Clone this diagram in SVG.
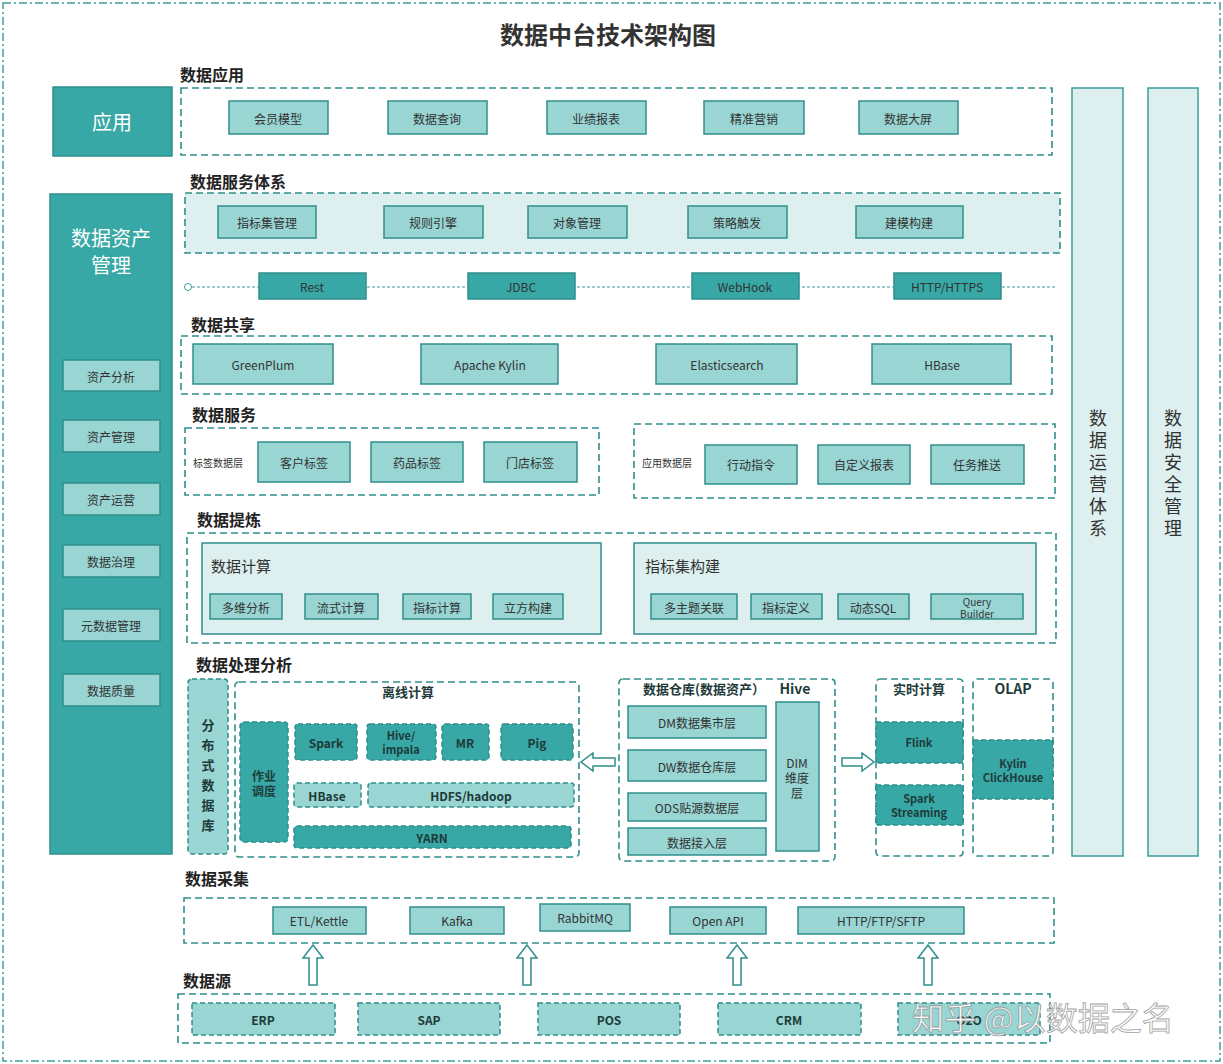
<svg xmlns="http://www.w3.org/2000/svg" width="1223" height="1064" viewBox="0 0 1223 1064">
<style>
text{font-family:"Noto Sans CJK SC","Open Sans",sans-serif;fill:#333;text-anchor:middle;dominant-baseline:central}
.lbl{font-size:16px;font-weight:bold;text-anchor:start;fill:#222}
.dg{fill:none;stroke:#2f8f8c;stroke-width:1.6;stroke-dasharray:7 4}
.lt{fill:#98d5d3;stroke:#2f8f8c;stroke-width:1.5}
.dk{fill:#37a8a5;stroke:#2f8f8c;stroke-width:1.5}
.ltd{fill:#98d5d3;stroke:#2f8f8c;stroke-width:1.5;stroke-dasharray:5 3}
.dkd{fill:#37a8a5;stroke:#2f8f8c;stroke-width:1.5;stroke-dasharray:5 3}
.s{font-size:12px}
.b{font-size:12px;font-weight:bold;fill:#1e3b3a}
.w{fill:#fff}
.ar{fill:#fff;stroke:#2f8f8c;stroke-width:1.5}
</style>
<rect width="1223" height="1064" fill="#fff"/>
<rect x="3" y="3" width="1217" height="1058" fill="none" stroke="#3a9e9b" stroke-width="1.5" stroke-dasharray="8 3 2 3"/>
<text x="608" y="33" style="font-size:24px;font-weight:bold" fill="#222">数据中台技术架构图</text>

<g id="app">
<rect x="53" y="87" width="119" height="69" class="dk"/>
<text x="112" y="121" class="w" style="font-size:20px;fill:#fff">应用</text>
<text x="180" y="74" class="lbl">数据应用</text>
<rect x="181" y="88" width="871" height="67" class="dg"/>
<rect x="229" y="101" width="99" height="33" class="lt"/><text x="278" y="118" class="s">会员模型</text>
<rect x="388" y="101" width="99" height="33" class="lt"/><text x="437" y="118" class="s">数据查询</text>
<rect x="547" y="101" width="99" height="33" class="lt"/><text x="596" y="118" class="s">业绩报表</text>
<rect x="704" y="101" width="100" height="33" class="lt"/><text x="754" y="118" class="s">精准营销</text>
<rect x="859" y="101" width="99" height="33" class="lt"/><text x="908" y="118" class="s">数据大屏</text>
</g>

<g id="service-system">
<text x="190" y="181" class="lbl">数据服务体系</text>
<rect x="185" y="193" width="875" height="60" class="dg" style="fill:#ddf0ef"/>
<rect x="218" y="206" width="98" height="32" class="lt"/><text x="267" y="222" class="s">指标集管理</text>
<rect x="384" y="206" width="99" height="32" class="lt"/><text x="433" y="222" class="s">规则引擎</text>
<rect x="528" y="206" width="99" height="32" class="lt"/><text x="577" y="222" class="s">对象管理</text>
<rect x="688" y="206" width="99" height="32" class="lt"/><text x="737" y="222" class="s">策略触发</text>
<rect x="856" y="206" width="107" height="32" class="lt"/><text x="909" y="222" class="s">建模构建</text>
</g>

<g id="connectors">
<line x1="192" y1="287" x2="1055" y2="287" stroke="#3a9e9b" stroke-width="1" stroke-dasharray="3 2"/>
<circle cx="188" cy="287" r="3.5" fill="#fff" stroke="#3a9e9b"/>
<polygon points="615,758 593,758 593,753 581,762 593,771 593,766 615,766" class="ar"/>
<polygon points="842,758 862,758 862,753 874,762 862,771 862,766 842,766" class="ar"/>
<polygon points="309,985 309,958 303,958 313,945 323,958 317,958 317,985" class="ar"/>
<polygon points="523,985 523,958 517,958 527,945 537,958 531,958 531,985" class="ar"/>
<polygon points="733,985 733,958 727,958 737,945 747,958 741,958 741,985" class="ar"/>
<polygon points="924,985 924,958 918,958 928,945 938,958 932,958 932,985" class="ar"/>
</g>

<g id="protocols">
<rect x="259" y="273" width="107" height="26" class="dk"/><text x="312" y="286" class="s">Rest</text>
<rect x="468" y="273" width="107" height="26" class="dk"/><text x="521" y="286" class="s">JDBC</text>
<rect x="692" y="273" width="107" height="26" class="dk"/><text x="745" y="286" class="s">WebHook</text>
<rect x="894" y="273" width="107" height="26" class="dk"/><text x="947" y="286" class="s">HTTP/HTTPS</text>
</g>

<g id="share">
<text x="191" y="324" class="lbl">数据共享</text>
<rect x="181" y="336" width="871" height="58" class="dg"/>
<rect x="193" y="344" width="140" height="40" class="lt"/><text x="263" y="364" class="s">GreenPlum</text>
<rect x="421" y="344" width="137" height="40" class="lt"/><text x="490" y="364" class="s">Apache Kylin</text>
<rect x="656" y="344" width="141" height="40" class="lt"/><text x="727" y="364" class="s">Elasticsearch</text>
<rect x="872" y="344" width="139" height="40" class="lt"/><text x="942" y="364" class="s">HBase</text>
</g>

<g id="data-service">
<text x="192" y="414" class="lbl">数据服务</text>
<rect x="185" y="428" width="414" height="67" class="dg"/>
<text x="218" y="462" style="font-size:10px">标签数据层</text>
<rect x="258" y="442" width="92" height="40" class="lt"/><text x="304" y="462" class="s">客户标签</text>
<rect x="371" y="442" width="92" height="40" class="lt"/><text x="417" y="462" class="s">药品标签</text>
<rect x="484" y="442" width="93" height="40" class="lt"/><text x="530" y="462" class="s">门店标签</text>
<rect x="634" y="424" width="421" height="74" class="dg"/>
<text x="667" y="462" style="font-size:10px">应用数据层</text>
<rect x="705" y="445" width="92" height="39" class="lt"/><text x="751" y="464" class="s">行动指令</text>
<rect x="818" y="445" width="92" height="39" class="lt"/><text x="864" y="464" class="s">自定义报表</text>
<rect x="931" y="445" width="93" height="39" class="lt"/><text x="977" y="464" class="s">任务推送</text>
</g>

<g id="refine">
<text x="197" y="519" class="lbl">数据提炼</text>
<rect x="187" y="533" width="869" height="110" class="dg"/>
<rect x="202" y="543" width="399" height="91" fill="#ddf0ef" stroke="#2f8f8c" stroke-width="1.5"/>
<text x="211" y="565" style="font-size:15px;text-anchor:start">数据计算</text>
<rect x="210" y="594" width="72" height="25" class="lt"/><text x="246" y="607" class="s">多维分析</text>
<rect x="305" y="594" width="73" height="25" class="lt"/><text x="341" y="607" class="s">流式计算</text>
<rect x="403" y="594" width="68" height="25" class="lt"/><text x="437" y="607" class="s">指标计算</text>
<rect x="493" y="594" width="70" height="25" class="lt"/><text x="528" y="607" class="s">立方构建</text>
<rect x="634" y="543" width="402" height="91" fill="#ddf0ef" stroke="#2f8f8c" stroke-width="1.5"/>
<text x="645" y="565" style="font-size:15px;text-anchor:start">指标集构建</text>
<rect x="651" y="594" width="86" height="25" class="lt"/><text x="694" y="607" class="s">多主题关联</text>
<rect x="751" y="594" width="71" height="25" class="lt"/><text x="786" y="607" class="s">指标定义</text>
<rect x="838" y="594" width="71" height="25" class="lt"/><text x="873" y="607" class="s">动态SQL</text>
<rect x="931" y="594" width="92" height="25" class="lt"/><text x="977" y="601" style="font-size:10px">Query</text><text x="977" y="613" style="font-size:10px">Builder</text>
</g>

<g id="processing">
<text x="196" y="664" class="lbl">数据处理分析</text>
<rect x="188" y="679" width="40" height="175" rx="4" class="ltd"/>
<text x="208" y="724" class="b" style="font-size:13px">分</text><text x="208" y="744" class="b" style="font-size:13px">布</text><text x="208" y="764" class="b" style="font-size:13px">式</text><text x="208" y="784" class="b" style="font-size:13px">数</text><text x="208" y="804" class="b" style="font-size:13px">据</text><text x="208" y="824" class="b" style="font-size:13px">库</text>
<rect x="235" y="682" width="344" height="175" rx="4" class="dg"/>
<text x="408" y="691" class="b" style="font-size:13px">离线计算</text>
<rect x="240" y="722" width="48" height="120" rx="4" class="dkd"/>
<text x="264" y="775" class="b">作业</text><text x="264" y="790" class="b">调度</text>
<rect x="295" y="724" width="62" height="36" rx="3" class="dkd"/><text x="326" y="742" class="b">Spark</text>
<rect x="367" y="724" width="69" height="36" rx="3" class="dkd"/><text x="401" y="735" class="b" style="font-size:11px">Hive/</text><text x="401" y="749" class="b" style="font-size:11px">impala</text>
<rect x="442" y="724" width="47" height="36" rx="3" class="dkd"/><text x="465" y="742" class="b">MR</text>
<rect x="501" y="724" width="72" height="36" rx="3" class="dkd"/><text x="537" y="742" class="b">Pig</text>
<rect x="294" y="783" width="67" height="24" rx="3" class="ltd"/><text x="327" y="795" class="b">HBase</text>
<rect x="368" y="783" width="206" height="24" rx="3" class="ltd"/><text x="471" y="795" class="b">HDFS/hadoop</text>
<rect x="294" y="826" width="277" height="22" rx="3" class="dkd"/><text x="432" y="837" class="b">YARN</text>

<rect x="619" y="679" width="216" height="182" rx="4" class="dg"/>
<text x="704" y="688" class="b" style="font-size:13px">数据仓库(数据资产）</text>
<text x="795" y="688" class="b" style="font-size:14px">Hive</text>
<rect x="628" y="706" width="138" height="32" class="lt"/><text x="697" y="722" class="s">DM数据集市层</text>
<rect x="628" y="750" width="138" height="31" class="lt"/><text x="697" y="766" class="s">DW数据仓库层</text>
<rect x="628" y="793" width="138" height="28" class="lt"/><text x="697" y="807" class="s">ODS贴源数据层</text>
<rect x="628" y="828" width="138" height="27" class="lt"/><text x="697" y="842" class="s">数据接入层</text>
<rect x="776" y="702" width="43" height="149" class="lt"/>
<text x="797" y="762" class="s">DIM</text><text x="797" y="777" class="s">维度</text><text x="797" y="792" class="s">层</text>

<rect x="876" y="679" width="87" height="177" rx="4" class="dg"/>
<text x="919" y="688" class="b" style="font-size:13px">实时计算</text>
<rect x="876" y="722" width="87" height="41" class="dkd"/><text x="919" y="742" class="b" style="font-size:11px">Flink</text>
<rect x="876" y="785" width="87" height="40" class="dkd"/><text x="919" y="798" class="b" style="font-size:11px">Spark</text><text x="919" y="812" class="b" style="font-size:11px">Streaming</text>
<rect x="973" y="679" width="80" height="177" rx="4" class="dg"/>
<text x="1013" y="688" class="b" style="font-size:14px">OLAP</text>
<rect x="973" y="740" width="80" height="59" class="dkd"/><text x="1013" y="763" class="b" style="font-size:11px">Kylin</text><text x="1013" y="777" class="b" style="font-size:11px">ClickHouse</text>
</g>

<g id="asset">
<rect x="50" y="194" width="122" height="660" class="dk"/>
<text x="111" y="237" style="font-size:20px;fill:#fff">数据资产</text>
<text x="111" y="264" style="font-size:20px;fill:#fff">管理</text>
<rect x="63" y="360" width="97" height="31" class="lt"/><text x="111" y="376" class="s">资产分析</text>
<rect x="63" y="420" width="97" height="32" class="lt"/><text x="111" y="436" class="s">资产管理</text>
<rect x="63" y="483" width="97" height="32" class="lt"/><text x="111" y="499" class="s">资产运营</text>
<rect x="63" y="545" width="97" height="32" class="lt"/><text x="111" y="561" class="s">数据治理</text>
<rect x="63" y="609" width="97" height="32" class="lt"/><text x="111" y="625" class="s">元数据管理</text>
<rect x="63" y="674" width="97" height="32" class="lt"/><text x="111" y="690" class="s">数据质量</text>
</g>

<g id="ops">
<rect x="1072" y="88" width="51" height="768" fill="#ddf0ef" stroke="#3a9e9b" stroke-width="1.5"/>
<text x="1098" y="417" style="font-size:18px">数</text><text x="1098" y="439" style="font-size:18px">据</text><text x="1098" y="461" style="font-size:18px">运</text><text x="1098" y="483" style="font-size:18px">营</text><text x="1098" y="505" style="font-size:18px">体</text><text x="1098" y="527" style="font-size:18px">系</text>
</g>
<g id="security">
<rect x="1148" y="88" width="50" height="768" fill="#ddf0ef" stroke="#3a9e9b" stroke-width="1.5"/>
<text x="1173" y="417" style="font-size:18px">数</text><text x="1173" y="439" style="font-size:18px">据</text><text x="1173" y="461" style="font-size:18px">安</text><text x="1173" y="483" style="font-size:18px">全</text><text x="1173" y="505" style="font-size:18px">管</text><text x="1173" y="527" style="font-size:18px">理</text>
</g>

<g id="collect">
<text x="185" y="878" class="lbl">数据采集</text>
<rect x="184" y="898" width="870" height="45" class="dg"/>
<rect x="273" y="907" width="93" height="27" class="lt"/><text x="319" y="920" class="s">ETL/Kettle</text>
<rect x="410" y="907" width="94" height="27" class="lt"/><text x="457" y="920" class="s">Kafka</text>
<rect x="540" y="904" width="90" height="27" class="lt"/><text x="585" y="917" class="s">RabbitMQ</text>
<rect x="670" y="907" width="96" height="27" class="lt"/><text x="718" y="920" class="s">Open API</text>
<rect x="798" y="907" width="166" height="27" class="lt"/><text x="881" y="920" class="s">HTTP/FTP/SFTP</text>
</g>

<g id="source">
<text x="183" y="980" class="lbl">数据源</text>
<rect x="178" y="994" width="872" height="49" class="dg"/>
<rect x="192" y="1003" width="143" height="32" class="ltd"/><text x="263" y="1019" class="b">ERP</text>
<rect x="358" y="1003" width="142" height="32" class="ltd"/><text x="429" y="1019" class="b">SAP</text>
<rect x="538" y="1003" width="142" height="32" class="ltd"/><text x="609" y="1019" class="b">POS</text>
<rect x="718" y="1003" width="143" height="32" class="ltd"/><text x="789" y="1019" class="b">CRM</text>
<rect x="898" y="1003" width="142" height="32" class="ltd"/><text x="969" y="1019" class="b">O2O</text>
</g>
<text x="1043" y="1016" style="font-size:32px;fill:#fff;stroke:#999;stroke-width:0.8;opacity:0.9">知乎 @以数据之名</text>
</svg>
